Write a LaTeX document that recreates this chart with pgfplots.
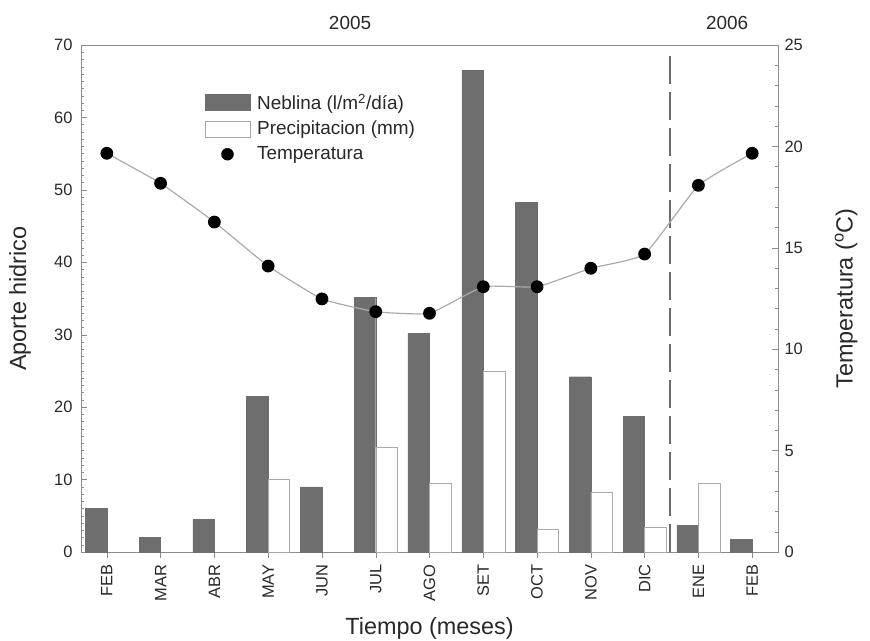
\documentclass[border=0pt]{standalone}
\usepackage{fontspec}
\setmainfont{Liberation Sans}
\usepackage{pgfplots}
\pgfplotsset{compat=1.18}
\definecolor{neb}{RGB}{110,110,110}
\definecolor{prec}{RGB}{170,170,170}
\definecolor{tline}{RGB}{170,170,170}
\definecolor{axc}{RGB}{140,140,140}
\definecolor{txt}{RGB}{40,40,40}
\pgfplotsset{mybarlegend/.style={legend image code/.code={\draw[##1] (0bp,-8bp) rectangle (45bp,8bp);}}}
\begin{document}
\begin{tikzpicture}
\begin{axis}[
  name=main,
  scale only axis, width=697bp, height=507bp,
  xmin=-0.48, xmax=12.48, ymin=0, ymax=70,
  clip=false,
  xtick={0,...,12},
  xticklabels={FEB,MAR,ABR,MAY,JUN,JUL,AGO,SET,OCT,NOV,DIC,ENE,FEB},
  xticklabel shift=9bp,
  xticklabel style={rotate=90, anchor=east, text=txt, font=\fontsize{16.5}{19}\selectfont},
  ytick={0,10,...,70},
  minor y tick num=9,
  xtick pos=bottom, ytick pos=left,
  tick align=inside,
  major tick length=6bp, minor tick length=3bp,
  x tick style={yshift=-6bp},
  every tick/.style={axc},
  axis line style={axc},
  yticklabel style={text=txt, font=\fontsize{16.5}{19}\selectfont, xshift=-5bp},
  /pgf/number format/assume math mode=true,
  ylabel={Aporte hidrico},
  ylabel style={at={(axis description cs:-0.0875,0.5)}, anchor=center, text=txt, font=\fontsize{23.5}{27}\selectfont},
  xlabel={Tiempo (meses)},
  xlabel style={at={(axis description cs:0.5,-0.15)}, anchor=center, text=txt, font=\fontsize{23.5}{27}\selectfont},
  legend style={at={(rel axis cs:0.173,0.912)}, anchor=north west, draw=none, fill=none,
    font=\fontsize{19}{22}\selectfont, text=txt, row sep=6.5bp, cells={anchor=west},
    /tikz/every odd column/.append style={column sep=5bp}},
]
\addplot[ybar, bar width=0.4, bar shift=-0.2, fill=neb, draw=neb, mybarlegend] coordinates {
  (0,6.0) (1,2.0) (2,4.5) (3,21.5) (4,9.0) (5,35.2) (6,30.2) (7,66.5) (8,48.3) (9,24.2) (10,18.7) (11,3.7) (12,1.75)};
\addlegendentry{Neblina (l/m\textsuperscript{2}/día)}
\addplot[ybar, bar width=0.4, bar shift=0.2, fill=white, draw=prec, mybarlegend] coordinates {
  (3,10.0) (5,14.45) (6,9.55) (7,25.0) (8,3.1) (9,8.2) (10,3.4) (11,9.5)};
\addlegendentry{Precipitacion (mm)}
\addlegendimage{legend image code/.code={\fill[black] (22.5bp,0bp) circle (6bp);}}
\addlegendentry{Temperatura}
\addplot[forget plot, color=black!58, line width=1.5bp, dash pattern=on 28bp off 8bp] coordinates {(10.47,0) (10.47,69.3)};
\node[text=txt, font=\fontsize{19}{22}\selectfont] at (rel axis cs:0.386,1.043) {2005};
\node[text=txt, font=\fontsize{19}{22}\selectfont] at (rel axis cs:0.927,1.043) {2006};
\end{axis}
\begin{axis}[
  scale only axis, width=697bp, height=507bp,
  xmin=-0.48, xmax=12.48, ymin=0, ymax=25,
  axis x line=none, axis y line*=right,
  ytick={0,5,...,25},
  minor y tick num=4,
  tick align=inside,
  major tick length=6bp, minor tick length=3bp,
  every tick/.style={axc},
  axis line style={axc},
  yticklabel style={text=txt, font=\fontsize{16.5}{19}\selectfont, xshift=3bp},
  /pgf/number format/assume math mode=true,
  ylabel={Temperatura (\textsuperscript{o}C)},
  ylabel style={at={(axis description cs:1.0976,0.5)}, anchor=center, text=txt, font=\fontsize{23.5}{27}\selectfont},
]
\addplot[tline, line width=1.2bp, smooth, tension=0.25, mark=*, mark size=5.8bp, mark options={black, fill=black, draw=black, solid}] coordinates {
  (0,19.66) (1,18.18) (2,16.27) (3,14.1) (4,12.48) (5,11.85) (6,11.77) (7,13.08) (8,13.08) (9,13.99) (10,14.69) (11,18.08) (12,19.66)};
\end{axis}
\pgfresetboundingbox
\path (main.south west) ++(-81bp,-89bp) rectangle ++(870bp,641bp);
\end{tikzpicture}
\end{document}
